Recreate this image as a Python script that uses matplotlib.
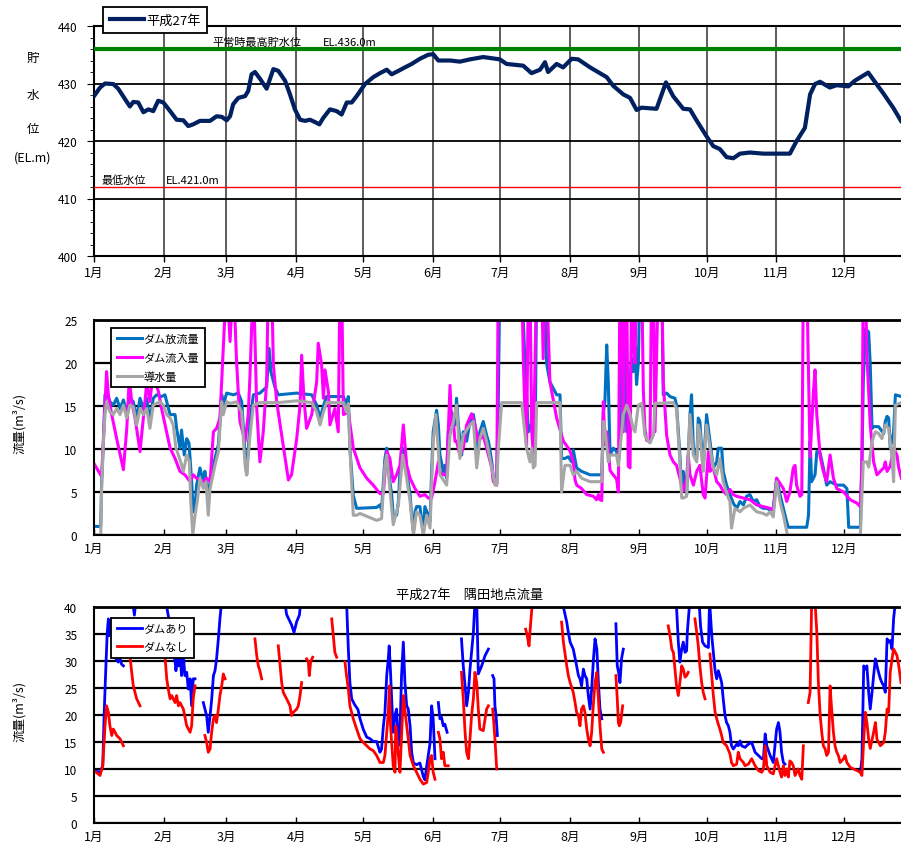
import numpy as np
import matplotlib
matplotlib.use("Agg")
import matplotlib.pyplot as plt
from matplotlib.ticker import MultipleLocator

plt.rcParams["font.family"] = ["Noto Sans CJK JP", "DejaVu Sans"]

MONTHS = ["1月", "2月", "3月", "4月", "5月", "6月", "7月", "8月", "9月", "10月", "11月", "12月"]
MONTH_START = [0, 31, 59, 90, 120, 151, 181, 212, 243, 273, 304, 334]
X_END = 359.5
GAP = np.nan

# 貯水位 (EL.m), (day of year, value)
level = [
    (0, 427.8), (2.7, 429.3), (4.9, 430.0), (8.6, 429.9), (10.8, 429.1), (13.8, 427.3),
    (16.0, 426.0), (17.5, 426.8), (19.7, 426.7), (22.0, 425.0), (24.2, 425.5), (26.4, 425.2),
    (28.6, 427.0), (30.9, 426.7), (33.9, 425.2), (36.8, 423.7), (39.8, 423.6), (42.0, 422.6),
    (44.2, 422.9), (47.2, 423.5), (51.7, 423.5), (54.6, 424.3), (56.9, 424.2), (59.1, 423.6),
    (60.6, 424.3), (62.0, 426.4), (64.3, 427.5), (67.3, 427.8), (68.7, 428.7), (70.2, 431.6),
    (71.7, 432.0), (74.0, 430.8), (76.9, 429.1), (78.4, 430.8), (79.9, 432.5), (82.1, 432.2),
    (85.1, 430.5), (87.3, 428.1), (89.5, 425.5), (91.8, 423.7), (94.0, 423.5), (96.2, 423.7),
    (98.4, 423.3), (100.4, 422.9), (102.1, 424.0), (105.1, 425.5), (108.1, 425.2), (110.3, 424.6),
    (112.6, 426.7), (114.8, 426.7), (117.0, 427.8), (120.7, 429.9), (124.4, 431.1), (127.4, 431.8),
    (130.4, 432.4), (132.6, 431.6), (135.6, 432.2), (138.5, 432.8), (141.5, 433.4), (145.2, 434.3),
    (148.9, 435.0), (151.1, 435.1), (153.4, 434.0), (158.6, 434.0), (163.0, 433.8), (167.5, 434.2),
    (173.4, 434.6), (180.8, 434.2), (183.8, 433.4), (191.2, 433.1), (194.9, 431.8), (198.7, 432.4),
    (200.9, 433.7), (202.3, 432.0), (206.1, 433.4), (209.0, 432.8), (212.8, 434.3), (215.7, 434.2),
    (221.0, 432.8), (228.4, 431.1), (231.3, 429.6), (235.8, 428.1), (238.8, 427.5), (241.7, 425.4),
    (243.9, 425.8), (250.6, 425.6), (254.8, 430.2), (258.0, 427.8), (262.5, 425.6), (265.5, 425.5),
    (268.4, 423.6), (272.9, 420.8), (275.9, 419.1), (278.8, 418.6), (281.8, 417.2), (284.8, 417.0),
    (287.8, 417.8), (292.2, 418.0), (298.2, 417.8), (304.1, 417.8), (310.0, 417.8), (313.0, 420.0),
    (316.7, 422.3), (319.0, 428.1), (321.2, 429.9), (323.4, 430.3), (327.8, 429.3), (330.8, 429.7),
    (336.0, 429.5), (339.0, 430.5), (344.9, 431.9), (348.6, 429.9), (351.6, 428.3), (356.0, 425.8),
    (359.5, 423.5),
]
HWL = 436.0      # 平常時最高貯水位
LWL_LINE = 412.0  # 最低水位ライン

# ダム放流量 (m3/s)
outflow = [
    (0, 1.0), (3.0, 1.0), (3.4, 6.2), (4.2, 10.9), (4.9, 16.3), (5.6, 16.5), (7.1, 15.5),
    (8.6, 15.1), (10.1, 15.9), (11.6, 14.7), (13.1, 15.7), (14.6, 14.3), (16.0, 15.9), (17.5, 15.5),
    (19.0, 13.6), (20.5, 15.9), (22.0, 14.7), (23.5, 15.9), (24.9, 13.2), (26.4, 15.9), (27.9, 16.3),
    (30.1, 16.1), (31.6, 16.3), (33.9, 14.0), (36.1, 14.0), (36.8, 12.4), (38.3, 10.1), (39.0, 12.2),
    (40.2, 9.3), (41.3, 11.2), (42.3, 10.7), (42.8, 8.9), (43.5, 6.2), (44.2, 2.7), (45.0, 3.1),
    (45.7, 5.8), (47.2, 7.8), (48.7, 6.2), (49.4, 7.4), (50.9, 4.6), (51.7, 6.0), (53.9, 8.9),
    (55.4, 10.5), (56.9, 16.3), (57.6, 15.1), (59.1, 16.5), (62.1, 16.3), (64.3, 16.5), (65.8, 15.5),
    (67.3, 9.3), (68.0, 7.0), (69.5, 13.2), (71.0, 16.3), (73.9, 16.5), (76.9, 17.2), (78.0, 21.7),
    (78.8, 19.0), (80.6, 17.2), (82.1, 16.3), (90.3, 16.5), (97.0, 16.3), (99.2, 15.1), (100.7, 13.6),
    (102.2, 15.0), (103.6, 16.1), (111.1, 16.1), (112.5, 15.1), (113.3, 16.1), (114.0, 10.1),
    (115.5, 4.6), (117.0, 3.1), (125.9, 3.2), (127.4, 3.5), (128.1, 2.9), (129.6, 8.9), (130.4, 10.1),
    (131.8, 6.2), (132.6, 4.7), (133.3, 2.3), (134.8, 2.3), (135.6, 3.9), (136.3, 7.4), (137.5, 10.1),
    (138.5, 8.9), (139.3, 7.4), (140.8, 4.7), (141.5, 2.3), (142.3, 0.4), (143.0, 2.7), (143.7, 3.3),
    (145.2, 3.3), (146.0, 1.6), (146.7, 0.4), (147.4, 3.3), (148.9, 2.3), (149.7, 1.6), (150.4, 7.4),
    (151.1, 12.0), (152.6, 14.5), (153.4, 12.8), (154.1, 9.3), (155.6, 7.4), (156.3, 8.1), (157.1, 6.6),
    (157.8, 12.0), (159.3, 14.3), (160.8, 12.8), (161.5, 15.9), (162.3, 12.8), (163.8, 9.3),
    (164.5, 12.0), (166.0, 10.9), (167.5, 13.2), (169.0, 14.0), (169.7, 12.8), (170.5, 8.9),
    (171.9, 12.0), (173.4, 13.2), (174.9, 11.6), (175.7, 10.9), (177.2, 8.5), (177.9, 6.6),
    (179.4, 6.0), (180.1, 15.5), (180.8, 30.0), (190.5, 30.0), (192.0, 20.0), (193.5, 12.0),
    (195.0, 13.0), (196.5, 10.0), (197.2, 30.0), (200.9, 30.0), (201.6, 20.0), (203.1, 17.8),
    (206.1, 16.3), (207.6, 16.3), (208.3, 8.9), (209.8, 8.9), (211.3, 9.1), (212.8, 8.5), (213.5, 9.9),
    (215.0, 7.8), (217.2, 7.4), (221.0, 7.0), (226.2, 7.0), (226.9, 14.3), (227.6, 15.5), (228.4, 22.1),
    (229.1, 17.8), (229.9, 9.3), (231.3, 10.1), (232.8, 9.7), (233.6, 8.5), (234.3, 10.1), (235.0, 30.0),
    (236.5, 30.0), (237.3, 12.0), (238.8, 18.0), (239.5, 20.5), (240.2, 19.0), (241.0, 22.0),
    (241.7, 17.5), (242.5, 20.0), (243.2, 30.0), (252.9, 30.0), (253.6, 16.3), (255.1, 16.5),
    (256.6, 16.1), (258.8, 15.9), (259.5, 15.1), (261.0, 9.3), (261.8, 5.0), (262.5, 7.4), (264.0, 4.7),
    (265.5, 14.0), (266.2, 16.3), (267.0, 10.1), (268.5, 8.9), (269.2, 13.6), (269.9, 13.2),
    (270.7, 10.1), (271.4, 7.8), (272.9, 14.0), (274.4, 10.9), (275.9, 7.8), (277.4, 8.5), (278.1, 10.1),
    (279.6, 10.1), (280.3, 7.4), (281.8, 5.8), (283.3, 4.7), (284.8, 3.7), (286.3, 3.1), (287.8, 3.9),
    (289.3, 3.5), (290.7, 4.5), (292.2, 4.7), (293.7, 3.9), (295.2, 4.1), (296.7, 3.3), (298.2, 3.1),
    (299.7, 3.1), (301.2, 2.9), (302.6, 3.1), (304.1, 6.6), (305.6, 4.7), (307.1, 3.1), (308.6, 1.5),
    (309.3, 0.9), (317.5, 0.9), (318.3, 2.3), (319.0, 10.9), (319.7, 6.2), (321.2, 7.0), (322.0, 9.7),
    (323.5, 9.5), (324.9, 7.8), (326.4, 5.8), (327.9, 6.2), (330.9, 5.8), (333.9, 5.8), (335.4, 5.4),
    (336.2, 0.9), (341.4, 0.9), (342.1, 8.5), (342.7, 17.8), (343.6, 24.0), (345.1, 23.6),
    (345.8, 19.8), (346.6, 12.4), (347.3, 12.6), (349.5, 12.6), (351.8, 11.8), (352.5, 13.2),
    (353.3, 13.8), (354.0, 13.6), (354.7, 10.1), (356.2, 12.0), (357.0, 16.3), (359.7, 16.1),
]

# ダム流入量 (m3/s)
inflow = [
    (0, 8.3), (3.4, 6.8), (4.9, 15.1), (5.6, 19.0), (6.4, 16.3), (7.9, 14.0), (10.1, 11.2),
    (13.1, 7.6), (14.6, 12.4), (15.7, 18.2), (16.8, 15.5), (18.3, 13.6), (20.5, 9.7), (22.7, 15.5),
    (23.5, 17.8), (24.9, 15.5), (25.7, 17.4), (27.2, 17.8), (28.7, 16.7), (30.1, 14.7), (33.9, 10.1),
    (36.1, 8.9), (38.3, 7.4), (40.5, 7.0), (42.8, 6.2), (44.2, 7.0), (45.7, 6.6), (48.7, 6.2),
    (50.2, 6.6), (51.7, 6.2), (53.2, 12.0), (54.6, 12.4), (56.1, 13.6), (57.6, 21.7), (59.1, 30.0),
    (60.6, 22.5), (62.1, 30.0), (63.5, 20.2), (65.0, 13.2), (67.3, 10.9), (68.7, 14.0), (69.5, 18.6),
    (71.0, 30.0), (72.5, 14.7), (73.9, 8.5), (75.4, 12.0), (76.9, 17.8), (77.7, 30.0), (79.1, 30.0),
    (79.9, 19.8), (81.4, 15.5), (83.6, 11.6), (86.6, 6.4), (88.0, 7.0), (90.3, 11.2), (91.8, 15.1),
    (92.5, 20.9), (93.5, 15.9), (94.7, 12.4), (97.0, 14.0), (99.2, 17.8), (99.9, 22.3), (101.4, 19.8),
    (102.2, 15.9), (102.9, 19.2), (104.4, 16.7), (105.1, 12.8), (107.3, 14.7), (108.8, 12.0),
    (109.6, 30.0), (110.3, 30.0), (111.1, 14.0), (113.3, 14.3), (115.5, 10.1), (118.5, 7.8),
    (121.5, 6.6), (124.4, 5.8), (127.4, 4.8), (128.9, 4.8), (130.4, 9.7), (131.8, 8.9), (133.3, 6.2),
    (134.8, 7.0), (136.3, 8.1), (137.8, 12.8), (139.3, 8.1), (140.8, 6.6), (143.0, 5.4), (145.2, 4.5),
    (147.4, 4.7), (148.9, 4.3), (150.4, 4.3), (151.9, 6.2), (153.4, 8.5), (154.1, 7.4), (155.6, 7.0),
    (157.1, 7.0), (158.6, 17.4), (159.3, 12.8), (160.1, 13.2), (160.8, 10.9), (161.5, 10.9),
    (163.0, 9.3), (164.5, 10.1), (166.0, 12.8), (168.2, 14.1), (169.7, 12.8), (171.2, 10.9),
    (173.4, 11.6), (174.9, 10.1), (177.2, 7.8), (177.9, 6.2), (179.4, 5.8), (180.1, 30.0),
    (190.5, 30.0), (191.3, 20.0), (192.0, 14.0), (192.7, 10.0), (193.5, 30.0), (194.2, 30.0),
    (195.0, 12.0), (195.7, 9.5), (197.2, 30.0), (199.4, 30.0), (200.1, 20.5), (200.9, 30.0),
    (201.6, 30.0), (203.1, 17.8), (206.1, 13.6), (208.3, 11.6), (209.1, 10.9), (211.3, 10.1),
    (212.1, 9.7), (213.5, 8.5), (214.3, 6.4), (215.0, 5.8), (217.2, 5.4), (219.5, 4.7), (222.5, 4.5),
    (223.9, 4.1), (224.7, 4.7), (225.4, 4.1), (226.2, 4.0), (226.9, 15.5), (227.6, 10.5), (228.4, 12.0),
    (229.9, 7.5), (231.3, 7.0), (232.8, 6.5), (233.6, 5.0), (234.3, 30.0), (235.0, 30.0), (235.8, 12.0),
    (236.5, 30.0), (237.3, 30.0), (238.0, 8.0), (238.8, 7.8), (239.5, 30.0), (240.2, 22.0),
    (241.0, 20.0), (241.7, 30.0), (244.0, 30.0), (244.7, 17.0), (245.4, 12.4), (246.2, 11.0),
    (247.7, 10.9), (248.4, 30.0), (249.2, 30.0), (249.9, 12.0), (251.4, 30.0), (252.9, 30.0),
    (253.6, 17.8), (255.1, 11.6), (256.6, 9.3), (258.1, 8.5), (259.5, 8.1), (261.0, 6.6), (262.5, 5.1),
    (264.0, 6.6), (264.7, 9.3), (265.5, 7.0), (267.0, 5.8), (268.5, 7.4), (269.9, 8.1), (271.4, 4.7),
    (272.2, 4.3), (273.7, 9.7), (274.4, 7.4), (275.9, 7.8), (277.4, 6.2), (278.8, 5.8), (280.3, 5.1),
    (281.8, 4.7), (283.3, 5.3), (284.8, 4.7), (286.3, 4.5), (289.3, 4.3), (292.2, 4.1), (295.2, 3.5),
    (298.2, 3.3), (301.2, 3.1), (302.6, 2.9), (304.1, 6.6), (307.1, 5.4), (308.6, 3.9), (310.0, 5.0),
    (311.5, 7.8), (312.3, 8.1), (313.0, 5.8), (314.5, 4.5), (315.3, 4.7), (316.0, 30.0), (317.5, 30.0),
    (319.0, 9.1), (320.5, 16.7), (321.2, 19.2), (322.0, 14.0), (323.5, 9.1), (324.9, 7.4), (326.4, 6.2),
    (327.9, 9.3), (329.4, 6.6), (330.9, 5.4), (333.9, 5.0), (336.9, 4.1), (339.9, 3.7), (341.4, 3.3),
    (342.1, 8.5), (342.7, 30.0), (343.6, 30.0), (344.3, 21.0), (345.8, 12.8), (347.3, 8.5), (348.8, 7.0),
    (350.3, 7.4), (351.8, 7.8), (352.5, 8.5), (353.3, 7.4), (354.7, 8.0), (356.2, 10.1), (357.7, 9.3),
    (358.5, 7.8), (359.7, 6.6),
]

# 導水量 (m3/s)
diversion = [
    (0, 0.0), (3.0, 0.0), (3.4, 5.4), (4.2, 10.9), (4.9, 14.0), (5.6, 15.5), (7.1, 14.3), (8.6, 14.0),
    (10.1, 14.7), (11.6, 14.0), (13.1, 15.1), (14.6, 13.6), (16.0, 15.1), (17.5, 14.9), (19.0, 12.8),
    (20.5, 14.7), (22.0, 14.0), (23.5, 14.7), (24.9, 12.4), (26.4, 15.1), (27.9, 15.3), (29.4, 15.5),
    (30.9, 15.1), (32.4, 14.0), (33.9, 13.6), (35.3, 12.8), (36.5, 10.1), (37.6, 9.3), (38.6, 8.5),
    (39.8, 7.4), (41.3, 9.3), (42.5, 8.5), (43.1, 3.9), (44.0, 0.0), (45.0, 2.3), (46.0, 3.9),
    (47.2, 6.6), (48.7, 5.4), (49.9, 6.2), (50.9, 2.3), (51.7, 5.4), (53.9, 8.1), (55.4, 9.7),
    (56.9, 15.5), (57.6, 14.0), (59.1, 15.5), (60.6, 15.3), (63.5, 15.5), (65.8, 14.3), (67.3, 8.1),
    (68.0, 7.0), (69.5, 11.6), (71.0, 15.1), (73.9, 15.4), (82.1, 15.4), (90.3, 15.6), (97.0, 15.4),
    (99.2, 14.3), (100.7, 12.8), (102.2, 14.3), (103.6, 15.4), (111.1, 15.4), (112.5, 14.3),
    (113.3, 15.3), (114.0, 10.1), (115.5, 2.3), (117.0, 2.3), (118.5, 2.5), (125.9, 1.7), (128.1, 1.9),
    (129.6, 8.1), (130.4, 9.3), (131.8, 5.4), (133.3, 1.2), (135.6, 3.5), (137.5, 9.3), (139.3, 6.6),
    (140.8, 3.9), (142.3, 0.0), (143.7, 2.7), (145.2, 2.3), (146.7, 0.0), (148.2, 2.3), (149.7, 0.8),
    (151.1, 10.9), (152.3, 14.0), (154.1, 7.0), (157.1, 5.8), (158.6, 11.6), (160.1, 13.2),
    (161.5, 15.1), (163.0, 8.9), (164.5, 11.6), (167.5, 12.8), (169.0, 13.2), (170.5, 7.8),
    (171.9, 11.2), (173.4, 12.4), (174.9, 10.9), (177.2, 7.8), (178.6, 5.8), (179.4, 5.8),
    (180.1, 10.0), (181.6, 15.4), (190.5, 15.4), (192.7, 10.1), (194.2, 8.5), (195.0, 10.1),
    (195.7, 7.8), (196.5, 8.1), (197.2, 15.4), (207.6, 15.4), (208.3, 5.0), (209.8, 8.1), (212.1, 8.1),
    (213.5, 7.0), (215.0, 7.4), (217.2, 6.6), (221.0, 6.2), (226.2, 6.2), (226.9, 13.2), (227.6, 12.4),
    (229.1, 8.5), (229.9, 9.3), (232.8, 9.3), (233.6, 8.1), (235.8, 14.0), (237.3, 15.1), (238.8, 14.0),
    (240.2, 12.4), (241.0, 12.0), (242.5, 15.1), (244.0, 15.3), (245.4, 11.6), (246.9, 10.9),
    (247.7, 10.7), (249.2, 11.6), (249.9, 15.3), (258.1, 15.4), (259.5, 14.7), (261.0, 8.5),
    (261.8, 4.3), (262.5, 4.3), (264.0, 4.5), (265.5, 14.0), (267.0, 9.3), (268.5, 8.5), (269.2, 12.8),
    (269.9, 12.0), (270.7, 9.3), (271.4, 7.4), (272.9, 12.8), (274.4, 10.1), (275.9, 7.8), (277.4, 7.0),
    (278.8, 8.9), (280.3, 6.2), (282.6, 4.3), (283.3, 3.9), (284.0, 0.8), (285.5, 3.1), (287.8, 2.7),
    (289.3, 3.1), (292.2, 3.5), (295.2, 2.7), (298.2, 2.5), (299.7, 2.3), (301.2, 2.7), (302.6, 2.1),
    (304.1, 6.2), (305.6, 3.9), (307.1, 2.3), (308.9, 0.0), (341.4, 0.0), (342.7, 8.5), (344.3, 8.5),
    (345.1, 7.9), (346.6, 10.9), (348.1, 12.0), (349.5, 11.8), (351.0, 11.2), (352.5, 12.8),
    (354.0, 12.4), (355.5, 8.9), (356.2, 6.2), (357.0, 15.1), (359.7, 15.4),
]

# 隅田地点流量 ダムあり (m3/s); GAP = 欠測
with_dam = [
    (0, 9.7), (2.7, 9.4), (3.9, 10.6), (4.5, 19.9), (5.3, 29.1), (5.9, 35.3), (6.4, 37.8), (6.8, 34.7),
    (7.9, 37.8), (8.6, 32.2), (9.8, 30.4), (10.8, 29.8), (11.6, 30.4), (12.3, 29.4), (13.1, 29.1),
    (15.0, GAP),
    (17.2, 41.0), (18.0, 38.5), (18.6, 41.0),
    (25.0, GAP),
    (32.0, 41.0), (32.4, 40.0), (33.9, 36.5), (35.3, 33.5), (36.5, 28.2), (37.1, 30.4), (37.6, 29.1),
    (38.3, 31.6), (39.0, 27.3), (39.8, 31.0), (40.5, 27.3), (41.3, 27.9), (42.0, 24.8), (42.8, 26.7),
    (43.5, 21.7), (44.2, 26.7), (45.0, 26.7),
    (47.0, GAP),
    (48.7, 22.3), (50.2, 19.8), (50.9, 16.8), (51.7, 19.8), (52.4, 22.8), (53.2, 27.3), (53.9, 28.2),
    (54.6, 30.4), (55.4, 34.1), (56.1, 37.8), (56.6, 40.0), (57.2, 45.0), (85.0, 41.0), (85.8, 38.6),
    (87.3, 37.3), (88.0, 36.7), (89.1, 35.3), (90.3, 37.3), (91.5, 38.5), (92.1, 41.0), (112.5, 41.0),
    (113.3, 32.2), (114.0, 26.0), (114.8, 23.0), (116.0, 22.0), (117.6, 21.0), (118.5, 19.3),
    (120.0, 17.3), (121.5, 15.9), (123.0, 15.6), (124.4, 15.1), (125.9, 15.1), (127.4, 13.1),
    (128.1, 13.7), (128.9, 17.9), (129.6, 20.5), (130.4, 27.3), (131.1, 30.4), (131.5, 32.8),
    (132.1, 27.9), (132.6, 23.0), (133.3, 16.8), (134.0, 19.8), (134.8, 21.1), (135.6, 14.3),
    (136.3, 16.8), (137.0, 27.3), (137.8, 33.5), (138.5, 26.0), (139.3, 21.7), (140.0, 21.1),
    (140.8, 18.0), (141.5, 13.1), (142.3, 11.1), (143.7, 10.8), (145.2, 11.1), (146.7, 8.6),
    (147.4, 8.0), (148.2, 10.5), (149.7, 14.8), (150.4, 21.7), (151.1, 19.3), (151.9, 11.9),
    (152.6, GAP),
    (153.4, 22.3), (154.1, 19.3), (154.8, 19.6), (155.6, 18.0), (156.3, 18.3), (157.3, 16.8),
    (160.0, GAP),
    (163.7, 34.1), (164.5, 29.1), (165.3, 25.4), (166.0, 21.7), (166.8, 24.2), (167.5, 28.5),
    (168.2, 31.6), (169.0, 35.3), (169.7, 41.0), (170.5, 41.0), (171.2, 27.6), (172.7, 29.1),
    (174.2, 31.0), (175.7, 32.2),
    (176.6, GAP),
    (177.6, 27.3), (178.2, 26.7), (178.6, 21.7), (179.1, 19.9), (179.7, 16.2),
    (195.0, GAP),
    (208.8, 41.0), (209.1, 40.0), (210.6, 37.2), (211.3, 35.3), (212.1, 33.5), (213.5, 32.2),
    (215.0, 29.1), (215.8, 27.3), (216.5, 26.7), (217.2, 25.4), (218.0, 28.5), (218.7, 27.3),
    (219.5, 26.7), (220.2, 23.6), (221.0, 21.1), (221.7, 24.8), (222.5, 30.4), (223.2, 34.1),
    (224.0, 32.2), (224.7, 26.0), (225.4, 21.1), (226.2, 19.3),
    (229.0, GAP),
    (232.5, 36.9), (233.1, 29.1), (233.7, 27.9), (234.3, 26.0), (235.0, 30.4), (235.8, 32.2),
    (247.0, GAP),
    (259.0, 41.0), (259.5, 40.0), (260.3, 33.5), (261.0, 29.8), (261.8, 32.2), (262.5, 33.5),
    (263.3, 31.6), (264.0, 31.9), (264.3, 35.3), (265.2, 40.0), (265.5, 41.0), (269.4, 41.0),
    (269.7, 40.0), (270.2, 36.5), (271.1, 33.5), (272.2, 32.8), (273.7, 32.5), (274.2, 41.0),
    (274.4, 40.0), (275.2, 34.7), (275.9, 31.6), (276.7, 28.1), (277.4, 26.7), (278.1, 28.2),
    (278.8, 27.3), (279.6, 26.0), (280.3, 23.0), (281.1, 19.9), (281.8, 18.6), (282.6, 18.0),
    (283.3, 16.8), (284.0, 14.3), (284.8, 13.7), (286.3, 14.6), (287.0, 14.3), (287.8, 15.2),
    (288.5, 14.3), (290.0, 14.0), (291.5, 14.6), (293.0, 14.9), (294.5, 13.1), (296.0, 12.5),
    (297.5, 11.9), (298.2, 11.9), (299.0, 16.5), (299.7, 14.3), (301.2, 12.5), (302.6, 11.2),
    (304.1, 17.4), (304.9, 18.6), (305.6, 16.8), (306.3, 13.1), (307.1, 11.2), (307.8, 10.9),
    (320.0, GAP),
    (341.4, 9.4), (342.1, 11.9), (342.9, 29.1), (343.6, 28.5), (344.3, 29.1), (345.1, 24.2),
    (345.8, 21.1), (346.6, 24.2), (347.3, 27.3), (348.1, 30.4), (348.8, 29.1), (349.5, 27.9),
    (350.3, 26.7), (351.0, 26.0), (351.8, 25.4), (352.5, 24.2), (353.3, 34.1), (354.0, 33.5),
    (354.7, 33.8), (355.5, 32.2), (356.2, 37.8), (357.0, 41.0), (359.5, 45.0),
]

# 隅田地点流量 ダムなし (m3/s)
without_dam = [
    (0, 9.7), (2.7, 8.8), (3.9, 10.6), (4.9, 18.0), (5.6, 21.7), (6.4, 20.5), (7.1, 18.0), (7.9, 16.2),
    (8.6, 17.4), (9.4, 16.8), (10.1, 16.2), (11.6, 15.6), (13.1, 14.3),
    (14.5, GAP),
    (16.0, 31.0), (16.8, 27.9), (17.5, 25.4), (19.0, 23.0), (20.5, 21.7),
    (25.0, GAP),
    (30.9, 34.7), (31.6, 31.0), (32.4, 26.7), (33.1, 24.8), (33.9, 23.0), (34.6, 23.6), (35.3, 23.0),
    (36.1, 22.3), (36.8, 23.6), (37.6, 21.7), (38.3, 22.3), (39.8, 21.1), (41.3, 18.0), (42.8, 16.8),
    (43.5, 18.0), (44.2, 23.0), (45.0, 25.4),
    (47.0, GAP),
    (49.4, 16.2), (50.2, 14.9), (50.9, 13.1), (51.7, 13.7), (52.4, 16.8), (53.2, 19.3), (53.9, 19.9),
    (54.6, 18.6), (55.4, 21.1), (56.1, 23.6), (56.9, 25.4), (57.6, 27.6), (58.4, 26.7),
    (65.0, GAP),
    (71.7, 34.1), (72.5, 31.0), (73.2, 29.1), (73.9, 28.2), (74.7, 26.7),
    (78.0, GAP),
    (82.1, 32.8), (82.9, 29.1), (83.6, 26.0), (84.3, 24.2), (85.8, 23.0), (87.3, 21.7), (88.0, 19.9),
    (88.8, 20.5), (90.3, 21.1), (91.0, 21.7), (91.8, 23.6), (92.5, 26.0),
    (93.5, GAP),
    (94.7, 30.4), (95.5, 29.8), (95.9, 27.3), (96.5, 29.8), (97.4, 30.7),
    (100.0, GAP),
    (105.9, 37.8), (106.6, 34.7), (107.3, 31.6), (108.1, 30.7),
    (110.0, GAP),
    (111.8, 29.8), (112.5, 27.3), (113.3, 24.8), (114.0, 21.7), (115.5, 19.3), (117.0, 17.4),
    (118.5, 15.6), (120.0, 14.9), (121.5, 14.3), (123.0, 13.7), (124.4, 13.4), (125.9, 12.5),
    (127.4, 11.2), (128.9, 11.2), (129.6, 12.5), (130.4, 16.8), (131.1, 20.5), (131.6, 25.4),
    (132.1, 18.0), (133.3, 10.6), (134.1, 9.4), (134.4, 18.0), (134.8, 16.8), (135.6, 12.5),
    (136.3, 9.4), (137.1, 16.8), (137.8, 23.6), (138.5, 21.1), (139.3, 18.0), (140.0, 15.6),
    (140.8, 12.5), (142.3, 10.6), (143.7, 9.4), (145.2, 8.1), (146.7, 7.2), (148.2, 7.5), (148.9, 9.4),
    (149.7, 11.9), (150.4, 12.5), (151.1, 9.4), (151.9, 8.1),
    (152.6, GAP),
    (153.4, 16.8), (154.1, 15.6), (154.8, 11.9), (155.6, 13.1), (156.3, 10.6), (157.8, 10.6),
    (160.0, GAP),
    (163.7, 27.9), (164.5, 23.0), (165.3, 16.8), (166.0, 13.1), (166.8, 11.9), (167.5, 15.6),
    (168.2, 19.9), (169.0, 23.0), (169.7, 27.9), (170.5, 26.0), (171.2, 21.1), (171.9, 17.4),
    (173.4, 17.1), (174.2, 19.3), (174.9, 21.1), (175.7, 21.7),
    (176.6, GAP),
    (177.6, 21.1), (178.2, 18.0), (178.6, 15.6), (179.4, 10.0),
    (185.0, GAP),
    (192.3, 35.9), (193.0, 34.7), (193.8, 32.8), (194.2, 35.3), (195.0, 39.6), (195.3, 41.0),
    (200.0, GAP),
    (208.3, 37.2), (209.1, 33.5), (210.6, 29.1), (211.3, 27.3), (212.1, 26.0), (213.5, 24.2),
    (214.3, 22.3), (215.0, 20.5), (215.8, 19.9), (216.5, 18.0), (217.2, 21.1), (218.0, 21.7),
    (218.7, 20.5), (219.5, 17.4), (220.2, 15.6), (221.0, 14.3), (221.7, 16.8), (222.5, 22.3),
    (223.2, 26.0), (224.0, 27.9), (224.7, 23.0), (225.4, 18.0), (226.2, 13.7), (226.9, 13.1),
    (229.0, GAP),
    (232.5, 27.3), (233.1, 23.0), (233.6, 18.6), (234.0, 18.0), (234.6, 18.6), (235.5, 21.7),
    (245.0, GAP),
    (255.8, 36.5), (256.6, 34.7), (257.4, 32.2), (258.1, 31.6), (258.8, 28.5), (259.5, 25.4),
    (260.3, 23.6), (261.0, 26.0), (261.8, 29.1), (262.5, 28.5), (263.3, 27.0), (264.0, 27.3),
    (264.7, 27.9),
    (266.0, GAP),
    (267.7, 37.8), (268.5, 35.3), (269.2, 32.8), (269.9, 29.1), (270.7, 26.0), (271.4, 24.2),
    (272.2, 23.0),
    (273.3, GAP),
    (274.4, 31.3), (275.2, 27.3), (275.9, 23.6), (276.7, 20.5), (277.4, 19.3), (278.1, 18.3),
    (278.8, 17.4), (279.6, 16.2), (280.3, 14.9), (281.1, 14.6), (281.8, 14.3), (283.3, 12.8),
    (284.0, 11.2), (284.8, 10.6), (286.3, 10.9), (287.0, 13.1), (287.8, 11.9), (289.3, 11.2),
    (290.0, 10.6), (291.5, 10.9), (293.0, 11.9), (294.5, 10.6), (296.0, 9.7), (297.5, 9.4),
    (298.2, 10.0), (299.0, 14.3), (299.7, 10.6), (301.2, 9.4), (302.6, 9.1), (304.1, 11.9),
    (304.9, 10.6), (305.6, 9.4), (306.3, 8.5), (307.1, 10.6), (307.8, 8.8), (308.6, 10.0), (309.3, 8.5),
    (310.0, 11.5), (310.8, 11.2), (311.5, 10.6), (312.3, 8.8), (313.0, 9.4), (313.7, 10.0),
    (314.5, 8.8), (315.3, 8.1), (316.0, 14.3),
    (317.0, GAP),
    (318.2, 22.3), (319.0, 24.2), (319.7, 41.0), (321.2, 41.0), (322.0, 35.3), (322.7, 26.0),
    (323.5, 19.9), (324.2, 16.8), (324.9, 14.3), (325.7, 13.7), (326.4, 12.5), (327.2, 13.1),
    (327.9, 25.4), (328.6, 21.1), (329.4, 16.8), (330.1, 14.3), (330.9, 13.1), (331.6, 12.5),
    (332.4, 11.2), (333.9, 11.9), (334.6, 12.5), (335.4, 11.2), (336.9, 10.3), (338.4, 10.0),
    (339.9, 9.7), (341.4, 9.4), (342.1, 8.8), (342.9, 15.5), (343.6, 20.5), (344.3, 18.6),
    (345.1, 15.5), (345.8, 13.8), (347.3, 16.8), (348.1, 18.6), (348.8, 15.5), (350.3, 14.3),
    (351.8, 14.9), (352.5, 16.8), (353.3, 21.1), (354.0, 20.5), (354.7, 27.9), (355.5, 30.4),
    (356.2, 32.2), (357.0, 31.6), (357.7, 31.0), (358.5, 29.1), (359.5, 26.0),
]


def xy(pairs):
    arr = np.array(pairs, dtype=float)
    return arr[:, 0], arr[:, 1]


def frame_legend(ax, anchor, fontsize, handlelength, spacing):
    leg = ax.legend(loc="upper left", bbox_to_anchor=anchor, bbox_transform=fig.transFigure,
                    borderaxespad=0, fancybox=False, framealpha=1, edgecolor="black",
                    fontsize=fontsize, handlelength=handlelength, handletextpad=0.15,
                    borderpad=0.5, labelspacing=spacing)
    leg.get_frame().set_linewidth(1.3)
    return leg


def month_axis(ax, direction):
    ax.set_xlim(0, X_END)
    ax.set_xticks(MONTH_START)
    ax.set_xticklabels(MONTHS, fontsize=9)
    ax.tick_params(axis="x", direction=direction, length=4, width=1, pad=5 if direction == "in" else 3)
    ax.spines["right"].set_visible(False)
    for side in ["top", "left", "bottom"]:
        ax.spines[side].set_linewidth(1.5)


W, H = 901, 853
fig = plt.figure(figsize=(W / 100, H / 100), dpi=100)
px = lambda left, top, bottom: [left / W, 1 - bottom / H, 1 - left / W, (bottom - top) / H]

# ---- 貯水位 ----
ax1 = fig.add_axes(px(94, 27, 257))
d, v = xy(level)
ax1.axhline(HWL, color="#008000", lw=3, zorder=3)
ax1.axhline(LWL_LINE, color="#ff0000", lw=1.0, zorder=3)
ax1.plot(d, v, color="#002060", lw=3, label="平成27年", zorder=4)
month_axis(ax1, "out")
ax1.set_ylim(400, 440)
ax1.yaxis.set_major_locator(MultipleLocator(10))
ax1.yaxis.set_minor_locator(MultipleLocator(2))
ax1.tick_params(axis="y", which="major", direction="out", length=5, labelsize=8.5, pad=7)
ax1.tick_params(axis="y", which="minor", direction="out", length=3)
ax1.grid(axis="y", color="black", lw=1.3)
ax1.grid(axis="x", color="#303030", lw=1.1)
ax1.text(52.6, 437.3, "平常時最高貯水位", fontsize=8, va="center")
ax1.text(102.0, 437.3, "EL.436.0m", fontsize=8, va="center")
ax1.text(3.4, 413.3, "最低水位", fontsize=8, va="center")
ax1.text(31.9, 413.3, "EL.421.0m", fontsize=8, va="center")
frame_legend(ax1, (103 / W, 1 - 8 / H), 9.5, 2.6, 0.5)
for label, y in [("貯", 58), ("水", 95), ("位", 129), ("(EL.m)", 158)]:
    fig.text(33 / W, 1 - y / H, label, fontsize=9, ha="center", va="center")

# ---- ダム放流量・流入量・導水量 ----
ax2 = fig.add_axes(px(94, 321, 536))
for series, color, label in [(outflow, "#0070c0", "ダム放流量"),
                             (inflow, "#ff00ff", "ダム流入量"),
                             (diversion, "#a6a6a6", "導水量")]:
    d, v = xy(series)
    ax2.plot(d, v, color=color, lw=2.2, label=label)
month_axis(ax2, "in")
ax2.set_ylim(0, 25)
ax2.set_yticks(range(0, 26, 5))
ax2.tick_params(axis="y", length=0, labelsize=8.5, pad=12)
ax2.grid(axis="y", color="black", lw=1.6)
ax2.spines["top"].set_linewidth(2)
frame_legend(ax2, (111 / W, 1 - 329 / H), 8, 2.3, 0.75)
fig.text(19 / W, 1 - 424 / H, "流量(m³/s)", rotation=90, fontsize=9, ha="center", va="center")

# ---- 隅田地点流量 ----
ax3 = fig.add_axes(px(94, 608, 824))
for series, color, label in [(with_dam, "#0000ff", "ダムあり"),
                             (without_dam, "#ff0000", "ダムなし")]:
    d, v = xy(series)
    ax3.plot(d, v, color=color, lw=2, label=label)
month_axis(ax3, "in")
ax3.set_ylim(0, 40)
ax3.set_yticks(range(0, 41, 5))
ax3.tick_params(axis="y", length=0, labelsize=8.5, pad=12)
ax3.grid(axis="y", color="black", lw=1.6)
ax3.spines["top"].set_linewidth(2)
frame_legend(ax3, (111 / W, 1 - 619 / H), 8, 2.3, 0.75)
fig.text(19 / W, 1 - 712 / H, "流量(m³/s)", rotation=90, fontsize=9, ha="center", va="center")
fig.text(470 / W, 1 - 595 / H, "平成27年　隅田地点流量", fontsize=9.5, ha="center", va="center")

fig.savefig("out.png", dpi=100)
